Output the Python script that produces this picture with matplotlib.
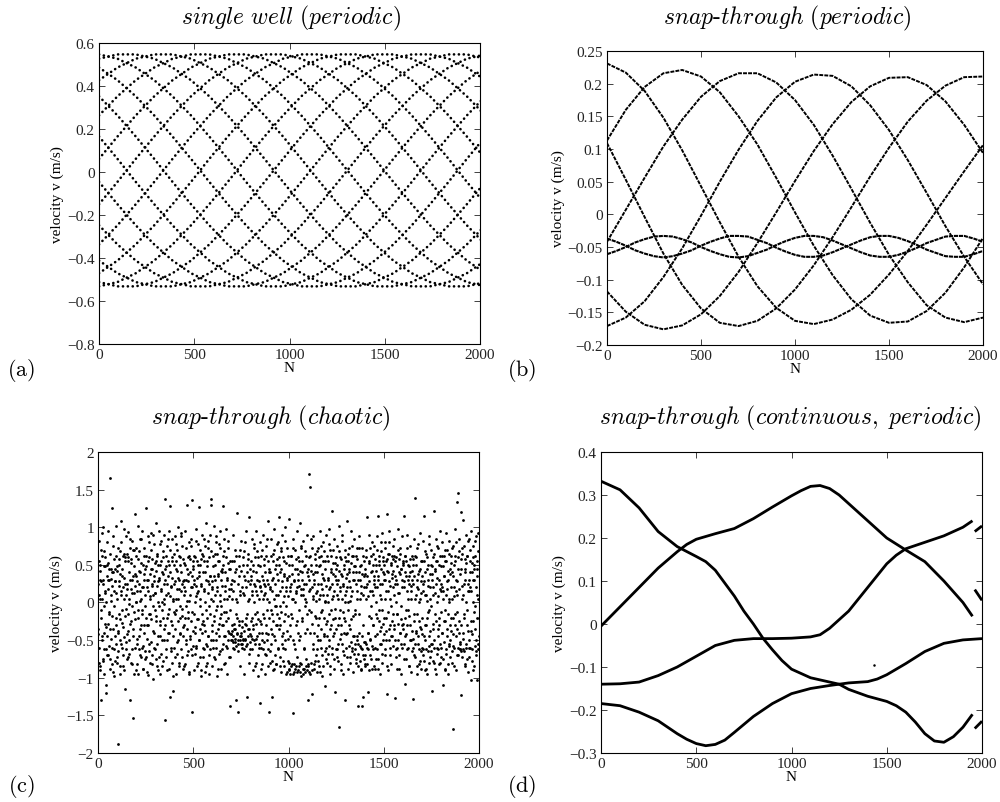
import numpy as np
import matplotlib
matplotlib.use("Agg")
import matplotlib.pyplot as plt
from matplotlib.ticker import FuncFormatter

plt.rcParams['font.family'] = ['Liberation Serif', 'DejaVu Serif']
plt.rcParams['mathtext.fontset'] = 'cm'

# ---------------- (a) single well (periodic): interleaved branches ----------------
A_N = [0, 97, 193, 290, 386, 483, 579, 676, 772, 869, 966, 1062, 1159, 1255,
       1352, 1448, 1545, 1642, 1738, 1835, 1931, 2028]
# one branch over a full cycle, sampled on the A_N spacing
A_PROFILE = [0.061, 0.165, 0.263, 0.352, 0.427, 0.486, 0.527, 0.547,
             0.547, 0.527, 0.486, 0.427, 0.352, 0.263, 0.165, 0.061,
             -0.046, -0.150, -0.248, -0.337, -0.412, -0.471, -0.512, -0.532,
             -0.532, -0.512, -0.471, -0.412, -0.337, -0.248, -0.150, -0.046]
# where each of the 16 branches sits in that cycle at N = 0
A_OFFSETS = [0, 2, 4, 6, 8, 10, 12, 14, 16, 18, 20, 22, 24, 26, 28, 30]

# ---------------- (b) snap-through (periodic) ----------------
B_N = [0, 100, 200, 300, 400, 500, 600, 700, 800, 900, 1000, 1100, 1200, 1300,
       1400, 1500, 1600, 1700, 1800, 1900, 2000]
B_BIG = [
    [0.231, 0.217, 0.189, 0.148, 0.098, 0.043, -0.012, -0.065, -0.110, -0.143, -0.163,
     -0.168, -0.161, -0.146, -0.123, -0.092, -0.056, -0.016, 0.025, 0.066, 0.106],
    [0.113, 0.160, 0.195, 0.216, 0.221, 0.211, 0.187, 0.150, 0.107, 0.056, 0.003,
     -0.048, -0.093, -0.130, -0.155, -0.166, -0.164, -0.148, -0.120, -0.081, -0.036],
    [-0.042, 0.007, 0.056, 0.104, 0.145, 0.180, 0.204, 0.216, 0.216, 0.202, 0.175,
     0.137, 0.090, 0.039, -0.013, -0.062, -0.104, -0.139, -0.158, -0.165, -0.158],
    [-0.171, -0.158, -0.133, -0.096, -0.052, -0.002, 0.050, 0.099, 0.143, 0.179, 0.203,
     0.214, 0.212, 0.196, 0.167, 0.129, 0.083, 0.033, -0.018, -0.065, -0.107],
    [-0.118, -0.149, -0.169, -0.176, -0.170, -0.153, -0.125, -0.088, -0.044, 0.003, 0.051,
     0.097, 0.138, 0.172, 0.196, 0.209, 0.210, 0.198, 0.173, 0.137, 0.094],
    [0.109, 0.053, -0.004, -0.060, -0.108, -0.144, -0.166, -0.171, -0.163, -0.144, -0.115,
     -0.078, -0.035, 0.011, 0.058, 0.102, 0.142, 0.174, 0.197, 0.210, 0.211],
]
# the two small, braided oscillations near -0.05
BS_N = [0, 50, 100, 150, 200, 250, 300, 350, 400, 450, 500, 550, 600, 650, 700, 750,
        800, 850, 900, 950, 1000, 1050, 1100, 1150, 1200, 1250, 1300, 1350, 1400, 1450,
        1500, 1550, 1600, 1650, 1700, 1750, 1800, 1850, 1900, 1950, 2000]
B_SMALL = [
    [-0.061, -0.056, -0.050, -0.043, -0.038, -0.034, -0.033, -0.034, -0.038, -0.043, -0.050,
     -0.056, -0.061, -0.065, -0.066, -0.064, -0.059, -0.054, -0.047, -0.041, -0.036, -0.033,
     -0.033, -0.035, -0.040, -0.046, -0.052, -0.058, -0.063, -0.065, -0.065, -0.062, -0.057,
     -0.051, -0.044, -0.039, -0.034, -0.033, -0.033, -0.037, -0.042],
    [-0.037, -0.042, -0.048, -0.055, -0.060, -0.064, -0.066, -0.064, -0.060, -0.055, -0.048,
     -0.042, -0.037, -0.033, -0.033, -0.034, -0.039, -0.044, -0.051, -0.057, -0.062, -0.065,
     -0.065, -0.063, -0.058, -0.052, -0.046, -0.040, -0.035, -0.033, -0.033, -0.036, -0.041,
     -0.047, -0.054, -0.059, -0.064, -0.065, -0.065, -0.061, -0.056],
]

# ---------------- (c) snap-through (chaotic) ----------------
# even samples N = 0, 2, 4, ...
C_V_EVEN = [
    0.25, -0.42, 0.82, -0.8, 0.05, 0.5, -0.85, 0.28, -0.1, -1.3, 0.62, -0.45, 0.3, -0.78, 1.0, -0.05, 0.68, -0.62, 0.48, 0.12, -1.2, -0.32, -1.09, 0.5, -0.7,
    0.3, -0.28, 0.95, -0.58, 0.45, -0.15, -0.75, 1.66, 0.02, -0.48, 0.31, -0.82, 1.26, 0.4, -0.35, 0.88, -0.62, 0.15, -0.98, 0.45, 0.28, -0.55, 1.02, -0.2, -0.8,
    -0.72, 0.42, -0.4, -1.88, 0.58, -0.15, 0.22, -0.95, 0.68, -0.5, 0.1, 1.08, -0.6, 0.35, -0.27, 0.62, -0.85, 0.05, 0.97, -0.46, 0.25, -1.15, 0.6, -0.08, -0.52,
    0.65, -0.75, 0.18, 0.94, -0.38, 0.55, -0.02, -0.68, 0.3, 0.72, -1.3, -0.25, 0.58, -0.82, 0.12, 0.82, -0.45, -1.53, 0.35, -0.12, 0.7, 1.17, -0.6, 0.22, -0.9,
    0.0, 0.72, -0.48, 0.28, -0.95, 1.02, -0.2, 0.42, -0.62, 0.15, 0.85, -0.35, 0.05, -0.72, 0.52, -0.1, 0.95, -0.58, 0.2, -0.88, 0.38, 0.72, -0.3, 0.1, -0.65,
    0.48, 1.25, -0.72, 0.2, -0.3, 0.88, -0.96, 0.3, -0.15, 0.6, -0.55, 0.08, -0.8, 0.45, 0.92, -0.22, 0.25, -0.7, 0.58, -0.05, -1.02, 0.35, 0.78, -0.4, 0.12,
    -0.62, 0.55, -0.18, 1.05, -0.85, 0.22, 0.62, -0.45, 0.0, 0.95, -0.72, 0.32, -0.25, 0.5, -0.95, 0.18, 0.82, -0.5, 0.4, -0.1, 0.68, -0.78, 0.05, 0.9, -0.35,
    -1.56, 0.3, 1.38, -0.62, 0.48, -0.2, 0.75, -0.9, 0.12, 0.55, -0.4, 0.95, -0.08, 1.28, -1.26, 0.4, -0.65, 0.22, 0.85, -0.3, 0.6, -0.98, 0.02, -1.18, 0.5,
    0.25, -0.72, 0.88, -0.15, 0.45, -0.95, 0.05, 0.7, -0.52, 0.32, -0.25, 1.0, -0.8, 0.18, 0.6, -0.4, -0.05, 0.92, -0.62, 0.4, -0.18, 0.75, -0.88, 0.28, -0.45,
    0.52, -0.3, 0.1, -0.82, 0.95, -0.5, 0.3, -0.05, 1.3, -0.7, 0.6, -0.2, 0.38, -0.95, 0.8, 0.02, -0.45, 0.58, -0.62, 0.2, 0.85, 1.36, -1.45, -0.12, 0.45,
    -0.58, 0.3, -0.9, 0.62, 0.0, -0.32, 0.98, -0.6, 0.22, 0.55, -0.85, 0.12, -0.22, 0.78, -0.5, 0.35, 1.27, -0.72, 0.05, 0.5, -0.98, 0.25, -0.4, 0.9, -0.15,
    0.62, -0.72, 0.15, -0.3, 0.85, -0.92, 0.4, 0.0, -0.55, 1.05, -0.2, 0.55, -0.8, 0.28, -0.45, 0.72, -0.05, -0.95, 0.35, 0.9, -0.62, 1.37, 1.29, 0.18, -0.38,
    -0.85, 0.48, 0.02, -0.6, 1.02, -0.25, 0.3, -0.75, 0.65, -0.1, 0.88, -0.5, 0.15, -0.98, 0.55, 0.35, -0.35, 0.78, -0.68, 0.1, -0.2, 0.95, -0.88, 0.42, -0.05,
    0.4, -0.62, 1.28, -0.3, 0.62, -0.82, 0.05, 0.85, -0.45, 0.22, -0.12, 0.98, -0.58, 0.3, -0.95, 0.52, -0.2, 0.72, -0.4, 0.08, 0.45, -0.72, -1.37, 0.18, -0.5,
    -0.42, 0.55, -0.3, 0.05, -0.52, 0.9, -0.35, -0.62, 0.28, -0.48, 0.7, -0.15, -1.3, 0.45, -0.4, 0.0, 1.19, -1.46, -0.55, 0.35, -0.25, 0.62, -0.5, 0.15, -0.85,
    0.82, -0.45, 0.2, -0.32, -0.6, 0.5, -0.5, 0.1, -0.95, 0.68, -0.28, 0.3, -0.48, 0.95, -0.2, -1.26, 0.4, -0.55, 0.02, -0.35, 0.58, -0.8, 1.14, -0.42, 0.25,
    -0.62, 0.3, -0.25, 0.85, -0.48, 0.15, -0.9, 0.5, -0.3, 0.0, 0.72, -0.55, 0.22, -0.15, 0.95, -0.8, 0.4, -0.45, 0.1, -0.98, 0.6, -0.22, 0.28, -0.6, 0.8,
    -1.34, 0.2, -0.28, 0.62, -0.88, 0.35, -0.5, 0.05, 0.9, -0.62, 0.25, -0.2, 0.5, -0.95, 0.12, -0.4, 0.75, -0.7, 0.3, -0.1, 0.55, -0.85, 1.08, 0.0, -1.46,
    0.45, -0.8, 0.18, -0.35, 0.85, -0.55, -1.26, 0.3, -0.15, 0.65, -0.9, 0.05, 0.98, -0.45, 0.25, -0.7, 0.5, -0.05, -0.82, 0.38, 0.78, -0.3, 0.1, -0.62, 0.6,
    -0.2, 1.13, -0.72, 0.4, -0.05, 0.68, -0.92, 0.2, -0.45, 0.9, 0.0, -0.6, 0.35, -0.85, 0.55, -0.15, 1.0, -0.5, 0.15, -0.95, 0.3, 0.72, -0.38, 0.08, -0.78,
    0.5, -0.88, 1.11, -0.3, 0.2, -0.95, 0.62, -0.15, 0.38, -0.82, 0.05, -1.47, 0.85, -0.5, 0.28, -0.92, 0.0, 0.7, -0.62, 0.15, -0.85, 0.45, -0.25, 0.95, -0.4,
    -0.9, 0.3, -0.1, 0.55, -0.8, 1.06, -0.45, 0.18, -0.98, 0.72, -0.2, 0.4, -0.88, 0.1, 0.82, -0.6, 0.25, -0.92, 0.5, -0.05, -0.75, 0.62, 0.0, -0.35, 0.9,
    0.35, -0.82, -1.3, 0.15, 0.6, 1.71, 1.53, -0.95, 0.42, -0.12, 0.85, -1.21, 0.2, -0.62, 0.05, 0.88, -0.88, 0.3, -0.4, 0.65, -0.78, 0.12, -0.2, 0.5, -0.92,
    0.15, -0.62, 0.72, -0.3, 0.05, -0.85, 0.48, 0.95, -0.5, 0.25, -0.12, 0.62, -0.7, 0.38, -0.98, 0.1, 0.8, -0.42, 0.3, -0.2, 0.55, -1.11, 0.0, 0.9, -0.6,
    -0.25, 0.62, -0.8, 0.3, 0.0, 0.98, -0.58, 0.18, -0.35, 0.7, -0.95, 0.4, -0.1, 1.22, -0.68, 0.25, 0.52, -0.45, 0.08, -0.88, 0.85, 0.35, -1.19, -0.2, 0.6,
    0.45, -0.72, 0.1, 0.75, -0.3, 0.3, -0.55, 1.02, -1.65, 0.2, -0.1, 0.6, -0.82, 0.38, -0.42, 0.05, 0.9, -0.65, 0.25, -0.95, 0.5, -0.2, 0.7, -1.3, 0.0,
    0.32, -0.6, 0.15, 1.08, -0.4, 0.55, -0.88, 0.0, 0.72, -0.3, 0.4, -0.72, 0.2, 0.95, -0.52, 0.08, -0.65, 0.62, -0.18, 0.3, -0.92, 0.48, -0.45, 0.85, -0.1,
    -0.55, 0.62, -0.8, 0.25, 0.72, -0.45, 0.05, -0.68, -1.38, 0.4, -0.15, 0.88, -0.58, 0.3, -0.9, 0.5, 0.12, -1.38, -0.62, 0.72, -0.3, -1.26, 0.2, -0.75, 0.55,
    -0.52, 0.38, -0.85, 0.05, 0.7, 1.13, -0.6, 0.25, -0.4, -1.19, 0.55, -0.18, 0.9, -0.7, 0.15, -0.5, 0.62, -0.05, -0.88, 0.42, 0.8, -0.3, 0.1, -0.62, 0.3,
    0.75, -0.45, 0.2, -0.88, 0.5, 0.0, -0.62, 0.88, -0.2, 0.35, -0.75, 1.15, -0.1, 0.55, -0.95, 0.25, -0.38, 0.68, -0.55, 0.05, 0.92, -0.8, 0.4, -0.28, 0.6,
    -0.42, 0.3, -0.7, 0.8, 0.05, -0.5, 0.55, -0.2, 1.17, -1.21, 0.4, -0.9, 0.15, 0.65, -0.35, 0.95, -0.6, 0.22, -0.05, -0.82, 0.5, 0.32, -0.45, 0.75, -0.15,
    0.58, -0.3, 0.1, 0.85, -1.27, 0.35, -0.62, 0.0, 0.6, -0.88, 0.25, -0.15, 0.98, -0.5, 0.4, -0.7, 0.12, 0.72, -0.4, -0.95, 0.45, -0.22, 0.3, -0.6, 0.88,
    -0.28, 0.55, -0.75, 1.15, 0.2, -0.45, -1.08, 0.62, -0.1, 0.35, -0.62, 0.9, -0.3, 0.05, 0.5, -0.85, 0.25, -0.18, 0.75, -0.5, 0.4, -0.92, 0.15, 0.62, -0.38,
    0.3, -0.6, -1.28, 0.5, -0.25, 0.85, -0.72, 1.39, 0.05, -0.4, 0.6, -0.95, 0.2, -0.15, 0.78, -0.55, 0.38, -0.82, 0.0, 0.92, -0.32, 0.45, -0.65, 0.12, -0.88,
    0.55, -0.2, 0.25, -0.7, 0.82, -0.45, 1.15, -0.9, 0.1, 0.4, -0.3, 0.65, -0.62, 0.02, -0.95, 0.5, -0.12, 0.3, -0.58, 0.88, -0.8, 0.2, -0.38, 0.7, -0.05,
    -0.65, 0.38, -1.18, 0.6, -0.28, 0.1, -0.8, 1.22, -0.5, 0.45, -0.15, 0.85, -0.95, 0.25, -0.6, 0.55, 0.0, -0.35, 0.72, -0.82, 0.3, -0.2, 0.95, -0.55, 0.15,
    0.48, -0.72, 0.2, 0.8, -0.4, 0.05, -1.1, 0.62, -0.25, 0.35, -0.88, 0.55, -0.1, 0.92, -0.62, 0.18, -0.45, 0.7, -0.95, 0.3, 0.0, -0.58, 0.82, -0.3, 0.45,
    -0.5, 0.62, -0.2, 0.05, -0.8, 0.4, -1.68, 0.75, -0.42, 0.2, -0.6, 0.98, -0.15, 0.55, -0.9, 0.3, 1.34, -0.35, 0.1, -0.7, 1.45, 0.6, -0.25, 0.85, -0.62,
    0.38, -0.55, 1.2, -0.65, -1.23, 0.72, 0.05, -0.4, 1.1, -0.62, 0.25, -0.15, 0.58, -0.85, 0.45, 0.0, -0.6, 0.9, -0.3, 0.62, -0.92, 0.15, 0.82, -0.5, 0.3,
    -0.72, 0.55, 0.2, -0.38, 0.95, -1.03, 0.4, -0.62, 0.0, 0.75, -0.25, 0.5, -0.85, 0.3, -0.05, 0.62, -0.5, 0.88, -0.65, -1.03, 0.1, 0.45, -0.55, 0.92, -0.2,
]
# odd samples N = 1, 3, 5, ...
C_V_ODD = [
    -0.35, 0.55, -0.6, 0.1, 0.42, -0.9, 0.3, -0.2, 0.7, -0.5, 0.05, 0.92, -0.75, 0.25, -0.4, 0.48, -0.95, 0.15, 0.6, -0.28, 0.0, -0.62, 0.35, 0.8, -0.45,
    0.18, -0.7, 0.52, -0.12, 0.3, -0.88, 0.65, -0.35, 0.1, 0.45, -0.6, 0.22, -0.18, 0.75, -0.92, 0.4, -0.05, 0.58, -0.45, 0.28, -0.78, 0.12, 0.62, -0.3, 0.48,
    0.05, -0.38, 0.72, -0.65, 0.28, 0.5, -0.22, -0.85, 0.38, 0.15, -0.55, 0.8, -0.1, 0.45, -0.7, 0.2, -0.32, 0.65, -0.9, 0.32, -0.18, 0.55, -0.62, 0.1, 0.88,
    -0.42, 0.25, -0.15, 0.6, -0.72, 0.05, 0.4, -0.5, 0.85, -0.28, 0.18, -0.8, 0.52, -0.05, 0.3, -0.62, 0.7, -0.35, 0.12, 0.48, -0.95, 0.38, -0.22, 0.62, 0.0,
    0.35, -0.55, 0.15, -0.82, 0.58, -0.1, 0.25, -0.45, 0.68, -0.7, 0.4, 0.02, -0.3, 0.85, -0.6, 0.2, -0.15, 0.5, -0.88, 0.3, -0.4, 0.62, -0.05, 0.45, -0.75,
    -0.2, 0.62, -0.48, 0.3, -0.92, 0.15, 0.55, -0.3, 0.8, -0.65, 0.05, 0.38, -0.15, 0.7, -0.52, 0.22, -0.82, 0.45, 0.1, -0.38, 0.9, -0.6, 0.28, -0.1, 0.52,
    0.12, -0.75, 0.42, -0.25, 0.65, -0.55, 0.28, -0.9, 0.5, -0.05, 0.3, -0.45, 0.78, -0.3, 0.15, -0.68, 0.55, 0.0, -0.85, 0.38, -0.2, 0.6, -0.5, 0.25, -0.02,
    0.45, -0.3, 0.1, -0.72, 0.62, 0.25, -0.5, 0.85, -0.15, 0.35, -0.88, 0.5, -0.4, 0.08, 0.7, -0.6, 0.2, -0.25, 0.55, -0.8, 0.32, 0.05, -0.45, 0.65, -0.12,
    -0.6, 0.28, -0.35, 0.55, -0.1, 0.78, -0.68, 0.18, 0.42, -0.5, 0.05, 0.62, -0.85, 0.3, -0.2, 0.5, -0.42, 0.15, 0.88, -0.72, 0.25, -0.08, 0.58, -0.32, 0.2,
    0.3, -0.85, 0.5, -0.2, 0.15, -0.55, 0.72, -0.35, 0.02, 0.45, -0.65, 0.28, -0.12, 0.62, -0.92, 0.4, 0.1, -0.48, 0.75, -0.25, 0.35, -0.7, 0.2, 0.55, -0.38,
    0.48, -0.15, 0.25, -0.68, 0.6, -0.4, 0.08, 0.82, -0.58, 0.32, -0.22, 0.5, -0.8, 0.15, 0.4, -0.5, 0.7, -0.05, -0.35, 0.58, -0.9, 0.22, -0.28, 0.65, -0.6,
    -0.25, 0.4, -0.62, 0.18, 0.55, -0.38, 0.75, -0.85, 0.3, -0.1, 0.48, -0.58, 0.12, 0.82, -0.45, 0.25, -0.7, 0.6, -0.15, 0.35, -0.5, 0.05, 0.68, -0.3, 0.2,
    0.28, -0.5, 0.62, -0.18, 0.35, -0.72, 0.1, 0.5, -0.4, 0.8, -0.6, 0.2, -0.05, 0.65, -0.88, 0.38, -0.28, 0.55, -0.45, 0.02, 0.72, -0.65, 0.3, -0.15, 0.45,
    -0.3, 0.22, -0.55, 0.5, -0.12, 0.68, -0.45, 0.15, -0.8, 0.4, -0.25, 0.6, -0.6, 0.05, 0.32, -0.38, 0.82, -0.5, 0.18, -0.72, 0.45, -0.1, 0.55, -0.42, 0.25,
    -0.5, 0.3, -0.38, -0.6, 0.15, -0.45, 0.55, -0.28, -0.52, 0.4, -0.35, 0.05, -0.58, 0.62, -0.42, -0.2, 0.25, -0.5, -0.65, 0.48, -0.3, 0.1, -0.45, 0.7, -0.55,
    -0.4, 0.42, -0.55, -0.25, 0.6, -0.48, 0.12, -0.62, 0.35, -0.38, 0.8, -0.5, 0.2, -0.3, -0.58, 0.5, -0.15, 0.28, -0.45, 0.65, -0.68, 0.05, -0.35, 0.45, -0.52,
    0.35, -0.45, 0.55, -0.2, 0.1, -0.62, 0.42, -0.35, 0.78, -0.5, 0.25, -0.85, 0.6, -0.28, 0.15, -0.48, 0.68, -0.12, 0.3, -0.7, 0.5, -0.4, 0.05, -0.55, 0.22,
    -0.25, 0.48, -0.6, 0.15, -0.4, 0.7, -0.82, 0.3, -0.15, 0.58, -0.52, 0.1, 0.4, -0.68, 0.22, -0.3, 0.62, -0.5, 0.05, 0.85, -0.42, 0.25, -0.62, 0.4, -0.2,
    0.2, -0.65, 0.4, -0.1, 0.62, -0.78, 0.15, -0.42, 0.55, -0.25, 0.32, -0.88, 0.7, -0.05, -0.5, 0.45, -0.3, 0.1, -0.82, 0.58, -0.15, 0.3, -0.6, 0.8, -0.35,
    0.5, -0.3, 0.15, -0.85, 0.45, -0.12, 0.72, -0.55, 0.28, -0.4, 0.6, -0.78, 0.08, 0.38, -0.25, 0.82, -0.62, 0.2, -0.05, 0.52, -0.92, 0.32, -0.48, 0.62, -0.18,
    -0.8, 0.35, -0.9, 0.15, -0.45, 0.62, -0.85, 0.25, -0.2, 0.5, -0.95, 0.05, 0.72, -0.82, 0.3, -0.55, 0.45, -0.88, 0.12, -0.3, 0.58, -0.92, 0.2, -0.72, 0.38,
    0.6, -0.85, 0.22, -0.5, 0.42, -0.92, 0.1, 0.75, -0.82, 0.3, -0.25, 0.55, -0.95, 0.18, -0.62, 0.48, -0.88, 0.05, 0.68, -0.4, 0.25, -0.85, 0.4, -0.15, -0.9,
    -0.85, 0.45, -0.1, 0.3, -0.92, 0.62, -0.4, 0.18, -0.8, 0.5, -0.28, 0.72, -0.9, 0.08, 0.38, -0.55, 0.25, -0.82, 0.58, -0.18, 0.4, -0.7, 0.02, 0.68, -0.45,
    0.4, -0.5, 0.25, -0.78, 0.6, -0.2, 0.1, -0.92, 0.5, -0.35, 0.75, -0.6, 0.18, -0.1, 0.55, -0.85, 0.32, -0.45, 0.68, 0.02, -0.65, 0.45, -0.28, 0.22, -0.75,
    0.1, -0.45, 0.55, -0.68, 0.32, -0.15, 0.78, -0.5, 0.2, -0.85, 0.45, -0.3, 0.62, 0.05, -0.6, 0.38, -0.22, 0.7, -0.75, 0.15, -0.4, 0.52, -0.08, 0.3, -0.62,
    -0.35, 0.25, -0.62, 0.5, 0.05, -0.78, 0.42, -0.2, 0.68, -0.48, 0.15, -0.9, 0.58, -0.3, 0.35, -0.55, 0.82, -0.12, 0.22, -0.7, 0.45, -0.4, 0.1, 0.6, -0.25,
    0.55, -0.42, 0.2, -0.72, 0.38, -0.1, 0.65, -0.58, 0.28, 0.45, -0.35, 0.02, -0.8, 0.52, -0.22, 0.75, -0.6, 0.15, -0.45, 0.4, 0.62, -0.68, 0.3, -0.15, 0.48,
    -0.62, 0.4, -0.75, 0.15, -0.5, 0.58, -0.85, 0.3, -0.55, 0.72, -0.4, 0.05, -0.78, 0.48, -0.6, 0.22, -0.88, 0.38, -0.45, 0.62, -0.7, 0.1, -0.52, 0.35, -0.82,
    0.45, -0.7, 0.2, -0.55, 0.6, -0.82, 0.35, -0.4, 0.08, -0.62, 0.52, -0.9, 0.28, -0.48, 0.72, -0.2, 0.4, -0.75, 0.15, -0.58, 0.5, -0.3, 0.65, -0.85, 0.25,
    0.35, -0.6, 0.58, -0.15, 0.42, -0.75, 0.2, 0.7, -0.42, 0.3, -0.88, 0.5, -0.25, 0.62, 0.1, -0.55, 0.8, -0.32, 0.45, -0.68, 0.25, -0.1, 0.55, -0.5, 0.38,
    0.5, -0.2, 0.3, -0.62, 0.72, -0.38, 0.15, 0.58, -0.85, 0.42, -0.12, 0.65, -0.5, 0.28, 0.8, -0.3, 0.05, -0.7, 0.52, -0.45, 0.38, 0.62, -0.25, 0.2, -0.58,
    0.42, -0.35, 0.62, -0.5, 0.25, 0.55, -0.72, 0.3, -0.15, 0.48, -0.6, 0.7, -0.28, 0.12, 0.58, -0.88, 0.38, -0.4, 0.65, -0.05, -0.55, 0.45, 0.2, -0.3, 0.52,
    -0.35, 0.5, -0.55, 0.28, 0.62, -0.2, 0.4, -0.75, 0.55, -0.42, 0.15, 0.72, -0.6, 0.3, -0.1, 0.48, -0.85, 0.35, -0.3, 0.58, -0.5, 0.22, 0.05, -0.65, 0.42,
    0.25, -0.48, 0.58, -0.7, 0.35, -0.15, 0.62, -0.55, 0.1, -0.38, 0.5, -0.85, 0.3, 0.72, -0.45, 0.18, -0.62, 0.42, -0.25, 0.05, -0.78, 0.55, -0.35, 0.28, -0.6,
    -0.42, 0.35, -0.62, 0.15, 0.55, -0.78, 0.28, -0.3, 0.68, -0.5, 0.1, -0.88, 0.45, -0.2, 0.6, -0.65, 0.22, -0.45, 0.78, -0.1, 0.38, -0.72, 0.05, 0.5, -0.55,
    0.3, -0.55, 0.48, -0.78, 0.2, -0.35, 0.65, -0.6, 0.12, 0.42, -0.88, 0.55, -0.25, 0.32, -0.68, 0.75, -0.45, 0.08, -0.62, 0.5, -0.3, 0.18, -0.8, 0.62, -0.12,
    -0.6, 0.25, -0.4, 0.62, -0.75, 0.15, 0.48, -0.52, 0.35, -0.9, 0.7, -0.25, 0.1, -0.68, 0.55, -0.35, 0.28, -0.82, 0.42, -0.15, 0.65, -0.55, 0.05, 0.38, -0.72,
    0.52, -0.38, 0.2, -0.65, 0.72, -0.2, 0.35, -0.58, 0.08, -0.85, 0.5, -0.3, 0.62, -0.45, 0.15, 0.8, -0.7, 0.28, -0.12, 0.45, -0.6, 0.18, -0.4, 0.68, -0.52,
    -0.62, 0.45, -0.3, 0.58, -0.72, 0.22, 0.65, -0.48, 0.1, -0.65, 0.75, -0.2, 0.4, -0.82, 0.3, -0.55, 0.52, -0.1, 0.62, -0.75, 0.25, -0.38, 0.85, -0.6, 0.15,
    0.4, -0.6, 0.7, -0.25, 0.15, -0.78, 0.52, -0.42, 0.3, -0.9, 0.6, -0.12, 0.45, -0.58, 0.82, -0.35, 0.2, -0.7, 0.55, -0.2, 0.35, -0.62, 0.05, 0.68, -0.45,
]

# ---------------- (d) snap-through (continuous, periodic) ----------------
D1_N = [0, 100, 200, 300, 400, 500, 550, 600, 650, 700, 750, 800, 850, 900, 950, 1000,
        1100, 1200, 1250, 1300, 1400, 1500, 1550, 1600, 1650, 1700, 1750, 1800, 1850, 1900, 1950]
D1_V = [0.332, 0.312, 0.270, 0.215, 0.180, 0.157, 0.145, 0.125, 0.095, 0.065, 0.030, 0.000,
        -0.033, -0.060, -0.085, -0.105, -0.125, -0.135, -0.140, -0.152, -0.168, -0.180, -0.190,
        -0.205, -0.228, -0.255, -0.272, -0.275, -0.262, -0.240, -0.210]
D1B_N = [1962, 2000]
D1B_V = [-0.243, -0.226]

D2_N = [0, 100, 200, 300, 400, 450, 500, 600, 700, 800, 900, 1000, 1050, 1100, 1150, 1200,
        1250, 1300, 1400, 1500, 1600, 1700, 1800, 1900, 1950]
D2_V = [-0.005, 0.040, 0.085, 0.130, 0.168, 0.185, 0.197, 0.210, 0.222, 0.245, 0.272, 0.298,
        0.310, 0.320, 0.322, 0.315, 0.300, 0.280, 0.240, 0.200, 0.172, 0.145, 0.100, 0.050, 0.018]
D2B_N = [1962, 2000]
D2B_V = [0.080, 0.055]

D3_N = [0, 100, 200, 300, 400, 500, 600, 700, 800, 900, 1000, 1100, 1150, 1200, 1300, 1400,
        1500, 1550, 1600, 1700, 1800, 1900, 1950]
D3_V = [-0.140, -0.139, -0.135, -0.120, -0.100, -0.075, -0.050, -0.038, -0.034, -0.034, -0.033,
        -0.030, -0.025, -0.010, 0.030, 0.085, 0.140, 0.160, 0.175, 0.190, 0.205, 0.225, 0.240]
D3B_N = [1962, 2000]
D3B_V = [0.215, 0.228]

D4_N = [0, 100, 200, 300, 400, 450, 500, 550, 600, 650, 700, 800, 900, 1000, 1100, 1200,
        1250, 1300, 1400, 1450, 1500, 1600, 1700, 1800, 1900, 2000]
D4_V = [-0.185, -0.190, -0.205, -0.225, -0.255, -0.268, -0.278, -0.283, -0.280, -0.270,
        -0.252, -0.215, -0.185, -0.162, -0.150, -0.143, -0.140, -0.137, -0.134, -0.128,
        -0.118, -0.092, -0.064, -0.045, -0.037, -0.034]
D_STRAY_N = [1431]
D_STRAY_V = [-0.096]


def fmt(v, _pos):
    if abs(v) < 1e-9:
        v = 0.0
    s = '%g' % round(v, 6)
    return s.replace('-', '\u2212')


def style(ax, ylim, yticks):
    ax.set_xlim(0, 2000)
    ax.set_xticks([0, 500, 1000, 1500, 2000])
    ax.set_ylim(*ylim)
    ax.set_yticks(yticks)
    ax.yaxis.set_major_formatter(FuncFormatter(fmt))
    ax.xaxis.set_major_formatter(FuncFormatter(fmt))
    ax.tick_params(direction='in', top=True, right=True, length=4, width=0.6,
                   labelsize=11, pad=3, colors='#222222')
    for sp in ax.spines.values():
        sp.set_linewidth(0.8)
    ax.set_xlabel('N', fontsize=11, labelpad=0)
    ax.set_ylabel('velocity v (m/s)', fontsize=11, labelpad=2)


fig = plt.figure(figsize=(10.0, 8.03), dpi=100)
fig.patch.set_facecolor('white')

ax_a = fig.add_axes([0.099, 0.5704, 0.381, 0.3748])
ax_b = fig.add_axes([0.607, 0.5691, 0.376, 0.3661])
ax_c = fig.add_axes([0.098, 0.0610, 0.381, 0.3749])
ax_d = fig.add_axes([0.601, 0.0610, 0.381, 0.3749])

# (a) dotted branches
for off in A_OFFSETS:
    vals = [A_PROFILE[(off + k) % len(A_PROFILE)] for k in range(len(A_N))]
    ax_a.plot(A_N, vals, color='k', lw=1.9, linestyle=(0, (0.05, 1.8)),
              dash_capstyle='round')
style(ax_a, (-0.8, 0.6), np.arange(-0.8, 0.61, 0.2))

# (b)
for vals in B_BIG:
    ax_b.plot(B_N, vals, color='k', lw=1.4, linestyle=(0, (2.0, 0.6)))
for vals in B_SMALL:
    ax_b.plot(BS_N, vals, color='k', lw=1.5, linestyle=(0, (2.0, 0.4)))
style(ax_b, (-0.2, 0.25), np.arange(-0.2, 0.251, 0.05))

# (c)
ax_c.plot(np.arange(len(C_V_EVEN)) * 2, C_V_EVEN, 'o', color='k', ms=2.0, mec='none')
ax_c.plot(np.arange(len(C_V_ODD)) * 2 + 1, C_V_ODD, 'o', color='k', ms=2.0, mec='none')
style(ax_c, (-2, 2), np.arange(-2, 2.01, 0.5))

# (d)
for n, v in [(D1_N, D1_V), (D1B_N, D1B_V), (D2_N, D2_V), (D2B_N, D2B_V),
             (D3_N, D3_V), (D3B_N, D3B_V), (D4_N, D4_V)]:
    ax_d.plot(n, v, color='k', lw=2.0, solid_capstyle='butt')
ax_d.plot(D_STRAY_N, D_STRAY_V, 'o', color='k', ms=1.8, mec='none')
style(ax_d, (-0.3, 0.4), np.arange(-0.3, 0.401, 0.1))

# titles and panel letters
fig.text(0.291, 0.9776, r'$\mathit{single\ well\ (periodic)}$', ha='center', va='center', fontsize=17)
fig.text(0.787, 0.9776, r'$\mathit{snap}\text{-}\mathit{through\ (periodic)}$', ha='center', va='center', fontsize=17)
fig.text(0.271, 0.4795, r'$\mathit{snap}\text{-}\mathit{through\ (chaotic)}$', ha='center', va='center', fontsize=17)
fig.text(0.790, 0.4795, r'$\mathit{snap}\text{-}\mathit{through\ (continuous,\ periodic)}$', ha='center', va='center', fontsize=17)

for x, y, s in [(0.021, 0.5392, '(a)'), (0.522, 0.5392, '(b)'),
                (0.021, 0.0200, '(c)'), (0.522, 0.0200, '(d)')]:
    fig.text(x, y, r'$\mathrm{%s}$' % s, ha='center', va='center', fontsize=16)

fig.savefig('out.png', dpi=100, facecolor='white')
